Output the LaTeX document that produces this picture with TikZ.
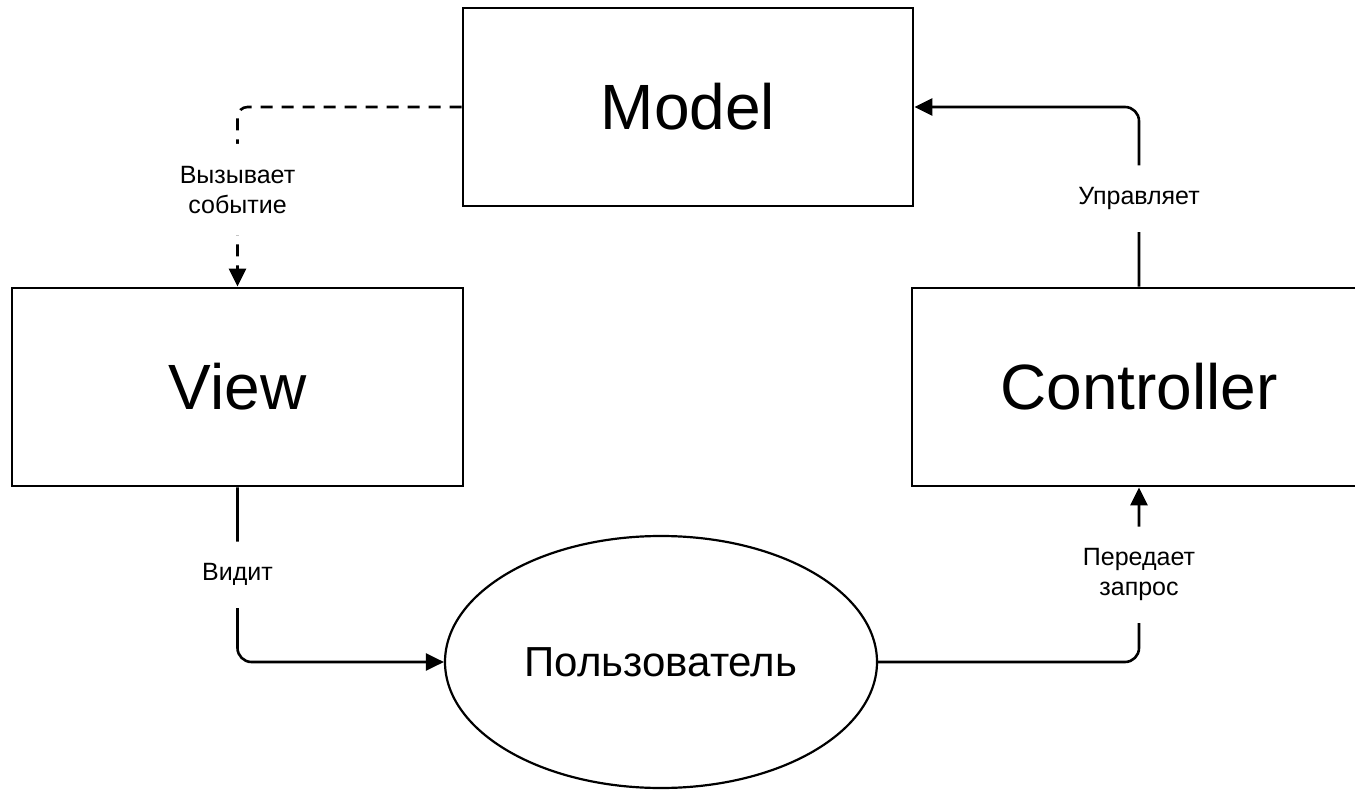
\documentclass[tikz,border=0pt]{standalone}
\usepackage{fontspec}
\setmainfont{Liberation Sans}
\usetikzlibrary{shapes.geometric,arrows.meta}
\begin{document}
\begin{tikzpicture}[x=0.5pt,y=-0.5pt,
  box/.style={draw,line width=1.4pt,minimum width=225pt,minimum height=99pt,inner sep=0pt,font=\fontsize{32}{38}\selectfont},
  userell/.style={draw,ellipse,line width=1.1pt,minimum width=216pt,minimum height=126pt,inner sep=0pt,font=\fontsize{21}{25}\selectfont},
  conn/.style={line width=1.3pt,rounded corners=7pt,-{Triangle[length=9pt,width=8.5pt]}},
  lbl/.style={fill=white,inner xsep=2pt,inner ysep=11pt,align=center,font=\fontsize{12.5}{15}\selectfont}]
\useasboundingbox (0,0) rectangle (1355,791);
\fill[white] (0,0) rectangle (1355,791);
\node[box] (model) at (688,107) {Model};
\node[box,minimum width=225.5pt] (view) at (237.5,387) {View};
\node[box,minimum width=227pt] (ctrl) at (1139,387) {Controller};
\node[userell] (user) at (661,662) {Пользователь};
\draw[conn,dash pattern=on 6pt off 4.5pt,rounded corners=5pt] (model.west) -| (view.north)
  node[lbl,pos=0.73] (l1) {Вызывает\\событие};
\draw[conn] (ctrl.north) |- (model.east)
  node[lbl,pos=0.245] (l2) {Управляет};
\draw[conn] (view.south) |- (user.west)
  node[lbl,pos=0.25] (l3) {Видит};
\draw[conn] (user.east) -| (ctrl.south)
  node[lbl,pos=0.75] (l4) {Передает\\запрос};
\end{tikzpicture}
\end{document}
